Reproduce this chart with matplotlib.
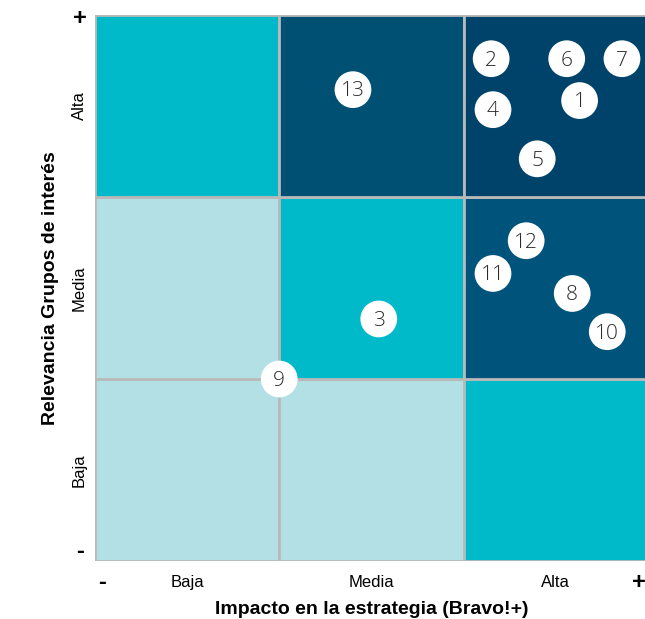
import matplotlib.pyplot as plt
from matplotlib.patches import Rectangle

# --------------------------------------------------
# Data
# --------------------------------------------------

levels = ["Baja", "Media", "Alta"]

# cell colours, rows from bottom (Baja) to top (Alta), columns left to right
cell_colors = [
    ["#b2e0e5", "#b2e0e5", "#00b9c9"],
    ["#b2e0e5", "#00b9c9", "#00537a"],
    ["#00b9c9", "#005073", "#00436a"],
]

topic_ids = [1, 2, 3, 4, 5, 6, 7, 8, 9, 10, 11, 12, 13]
impact = [2.63, 2.15, 1.54, 2.16, 2.40, 2.56, 2.86, 2.59, 1.00, 2.78, 2.16, 2.34, 1.40]
relevance = [2.53, 2.76, 1.33, 2.48, 2.21, 2.76, 2.76, 1.47, 1.00, 1.26, 1.58, 1.76, 2.59]

plt.rcParams["font.family"] = ["Liberation Sans", "DejaVu Sans"]

# --------------------------------------------------
# Figure
# --------------------------------------------------

fig = plt.figure(figsize=(6.45, 6.19), dpi=100)
ax = fig.add_axes([0.1473, 0.0937, 0.857, 0.882])

for row in range(3):
    for col in range(3):
        ax.add_patch(Rectangle((col, row), 1, 1, facecolor=cell_colors[row][col],
                               edgecolor="#b9b9b9", linewidth=2, zorder=1))

ax.scatter(impact, relevance, s=700, color="white", edgecolor="none", zorder=3,
           clip_on=False)
for tid, xv, yv in zip(topic_ids, impact, relevance):
    ax.text(xv, yv - 0.01, str(tid), ha="center", va="center", fontsize=15,
            color="#2b2b2b", zorder=4, family=["Open Sans", "DejaVu Sans"],
            fontweight="light")

ax.set_xlim(0, 3)
ax.set_ylim(0, 3)
for side in ax.spines.values():
    side.set_visible(False)

ax.set_xticks([0.5, 1.5, 2.5])
ax.set_xticklabels(levels, fontsize=12)
ax.set_yticks([0.5, 1.5, 2.5])
ax.set_yticklabels(levels, fontsize=12, rotation=90, va="center")
ax.tick_params(length=0, pad=10)
ax.tick_params(axis="y", pad=6)

ax.set_xlabel("Impacto en la estrategia (Bravo!+)", fontsize=14, fontweight="bold",
              labelpad=8)
ax.set_ylabel("Relevancia Grupos de interés", fontsize=14, fontweight="bold",
              labelpad=9)

# plus / minus markers at the ends of both axes
ax.text(-0.08, 2.98, "+", ha="center", va="center",
        fontsize=17, fontweight="bold", clip_on=False)
ax.text(-0.08, 0.05, "-", ha="center", va="center", fontsize=17,
        fontweight="bold", clip_on=False)
ax.text(0.04, -0.12, "-", ha="center", va="center", fontsize=17,
        fontweight="bold", clip_on=False)
ax.text(2.95, -0.12, "+", ha="center", va="center", fontsize=17,
        fontweight="bold", clip_on=False)

fig.savefig("out.png", dpi=100)
plt.close(fig)
